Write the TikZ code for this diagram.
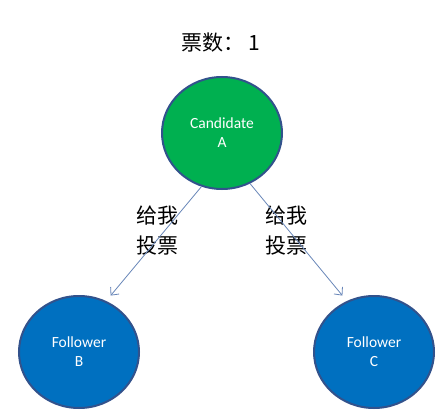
\documentclass[tikz,border=0pt]{standalone}
\usepackage{fontspec}
\usetikzlibrary{shapes.geometric,arrows.meta}
\newfontfamily\cjkfont{Noto Sans CJK SC}
\newfontfamily\calfont{Carlito}
\definecolor{nodegreen}{RGB}{0,176,80}
\definecolor{nodeblue}{RGB}{0,112,192}
\definecolor{nodeborder}{RGB}{50,82,140}
\definecolor{arrowcol}{RGB}{105,135,185}
\tikzset{
  rafnode/.style={ellipse, draw=nodeborder, line width=2pt, minimum width=120pt, minimum height=112pt,
    inner sep=0pt, align=center, text=white, font=\calfont\fontsize{15.5}{19}\selectfont},
  votearrow/.style={draw=arrowcol, line width=0.8pt, -{Straight Barb[length=6pt,width=11pt]}, shorten >=7pt},
  cjklabel/.style={align=left, inner sep=0pt, font=\cjkfont\fontsize{21}{30}\selectfont}
}
\begin{document}
\begin{tikzpicture}[x=1pt,y=-1pt]
\path[use as bounding box, fill=white] (0,0) rectangle (444,417);
\node[rafnode, fill=nodegreen] (A) at (222,133) {Candidate\\A};
\node[rafnode, fill=nodeblue] (B) at (79,352) {Follower\\B};
\node[rafnode, fill=nodeblue] (C) at (374,352) {Follower\\C};
\node[cjklabel] (title) at (221,43) {票数：\,1};
\node[cjklabel] (lblL) at (157,231) {给我\\投票};
\node[cjklabel] (lblR) at (286,231) {给我\\投票};
\draw[votearrow] (A.249) -- (B.62);
\draw[votearrow] (A.299) -- (C.118);
\end{tikzpicture}
\end{document}
